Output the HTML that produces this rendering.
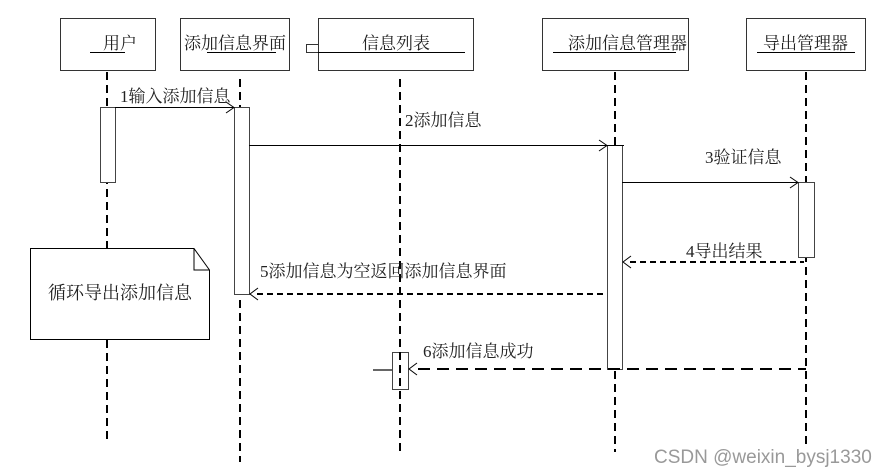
<!DOCTYPE html>
<html><head><meta charset="utf-8"><style>
html,body{margin:0;padding:0;background:#fff;width:886px;height:474px;overflow:hidden}
svg text{font-family:"Liberation Serif","Noto Serif CJK SC","Noto Sans CJK SC",serif;fill:#222}
</style></head><body>
<svg width="886" height="474" xmlns="http://www.w3.org/2000/svg">
<g fill="#fff" stroke="#333" stroke-width="1">
<rect x="60.5" y="18.5" width="95" height="52"/>
<rect x="180.5" y="18.5" width="109" height="52"/>
<rect x="318.5" y="18.5" width="155" height="52"/>
<rect x="306.5" y="44.5" width="12" height="8"/>
<rect x="542.5" y="18.5" width="146" height="52"/>
<rect x="746.5" y="18.5" width="119" height="52"/>
</g>
<g font-size="17">
<text x="103" y="49">用户</text>
<text x="184" y="49">添加信息界面</text>
<text x="362" y="49">信息列表</text>
<text x="568" y="49">添加信息管理器</text>
<text x="763" y="49">导出管理器</text>
</g>
<g stroke="#000" stroke-width="1">
<line x1="90" y1="52.5" x2="125" y2="52.5"/>
<line x1="207" y1="52.5" x2="276" y2="52.5"/>
<line x1="318" y1="52.5" x2="465" y2="52.5"/>
<line x1="553" y1="52.5" x2="676" y2="52.5"/>
<line x1="757" y1="52.5" x2="855" y2="52.5"/>
</g>
<g stroke="#000" stroke-width="2" stroke-dasharray="8,5" fill="none">
<line x1="107" y1="72" x2="107" y2="248"/>
<line x1="107" y1="340" x2="107" y2="441"/>
<line x1="240" y1="79" x2="240" y2="462"/>
<line x1="400" y1="79" x2="400" y2="451"/>
<line x1="615" y1="72" x2="615" y2="452"/>
<line x1="806" y1="72" x2="806" y2="446"/>
</g>
<g fill="#fff" stroke="#444" stroke-width="1">
<rect x="100.5" y="107.5" width="15" height="75"/>
<rect x="234.5" y="107.5" width="15" height="187"/>
<rect x="607.5" y="145.5" width="15" height="224"/>
<rect x="798.5" y="182.5" width="16" height="75"/>
<rect x="392.5" y="352.5" width="16" height="37"/>
</g>
<line x1="400" y1="352" x2="400" y2="390" stroke="#000" stroke-width="2" stroke-dasharray="8,5"/>
<path d="M30.5 248.5 H194 L209.5 270 V339.5 H30.5 Z" fill="#fff" stroke="#000"/>
<path d="M194 248.5 V270 H209.5" fill="none" stroke="#000"/>
<text x="48" y="299" font-size="18">循环导出添加信息</text>
<g stroke="#000" stroke-width="1" fill="none">
<line x1="115" y1="107.5" x2="234" y2="107.5"/>
<path d="M226 102 L234 107.5 L226 113"/>
<line x1="249" y1="145.5" x2="624" y2="145.5"/>
<path d="M599 140 L607 145.5 L599 151"/>
<line x1="622" y1="182.5" x2="798" y2="182.5"/>
<path d="M790 177 L798 182.5 L790 188"/>
</g>
<g stroke="#000" stroke-width="2" fill="none">
<line x1="630" y1="262" x2="804" y2="262" stroke-dasharray="6,4"/>
<line x1="257" y1="294" x2="607" y2="294" stroke-dasharray="6,4"/>
<line x1="418" y1="369" x2="806" y2="369" stroke-dasharray="12,7"/>
</g>
<g stroke="#000" stroke-width="1" fill="none">
<path d="M631 256 L623 262 L631 268"/>
<path d="M258 288 L250 294 L258 300"/>
<path d="M417 363 L409 369 L417 375"/>
</g>
<line x1="373" y1="370" x2="392" y2="370" stroke="#666" stroke-width="2"/>
<g font-size="17">
<text x="120" y="102">1输入添加信息</text>
<text x="405" y="126">2添加信息</text>
<text x="705" y="163">3验证信息</text>
<text x="686" y="257">4导出结果</text>
<text x="260" y="277">5添加信息为空返回添加信息界面</text>
<text x="423" y="357">6添加信息成功</text>
</g>
<text x="654" y="463" font-size="19" style="font-family:'Liberation Sans',sans-serif;fill:#999">CSDN @weixin_bysj1330</text>
</svg>
</body></html>
